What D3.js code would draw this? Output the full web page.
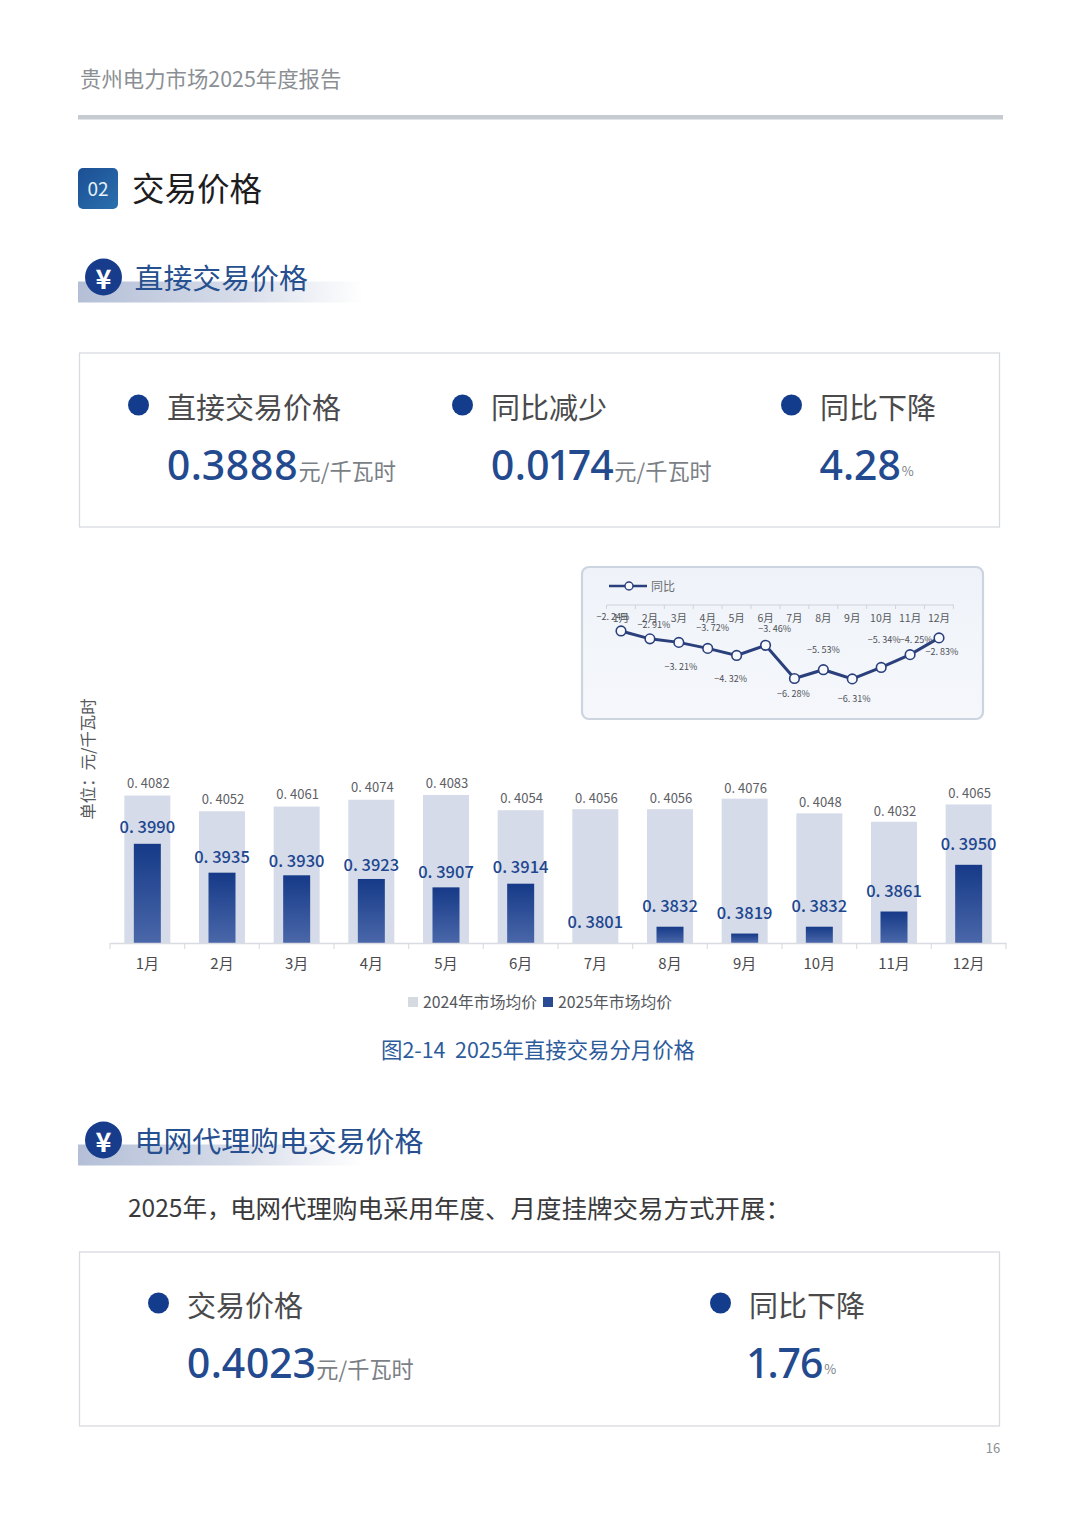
<!DOCTYPE html>
<html lang="zh-CN"><head><meta charset="utf-8">
<style>html,body{margin:0;padding:0;background:#fff}svg{display:block}text{font-family:"Noto Sans CJK SC","Noto Sans",sans-serif;white-space:pre}
text.kpi{font-family:"Noto Sans","Noto Sans CJK SC",sans-serif;font-feature-settings:"pnum" 1;font-variant-numeric:proportional-nums}</style>
<script src="https://cdn.jsdelivr.net/npm/d3@7"></script></head><body>
<svg id="page" width="1080" height="1526"></svg>
<script>
const months = ["1月","2月","3月","4月","5月","6月","7月","8月","9月","10月","11月","12月"];
const price2024 = [0.4082,0.4052,0.4061,0.4074,0.4083,0.4054,0.4056,0.4056,0.4076,0.4048,0.4032,0.4065];
const price2025 = [0.3990,0.3935,0.3930,0.3923,0.3907,0.3914,0.3801,0.3832,0.3819,0.3832,0.3861,0.3950];
const yoy = [-2.24,-2.91,-3.21,-3.72,-4.32,-3.46,-6.28,-5.53,-6.31,-5.34,-4.25,-2.83];
const seriesNames = ["2024年市场均价","2025年市场均价"];
const kpiTop = [["直接交易价格","0.3888","元/千瓦时"],["同比减少","0.0174","元/千瓦时"],["同比下降","4.28","%"]];
const kpiBottom = [["交易价格","0.4023","元/千瓦时"],["同比下降","1.76","%"]];

const svg = d3.select("#page");
const defs = svg.append("defs");
function lin(id,x2,y2,stops){const g=defs.append("linearGradient").attr("id",id).attr("x1",0).attr("y1",0).attr("x2",x2).attr("y2",y2);
  stops.forEach(s=>g.append("stop").attr("offset",s[0]).attr("stop-color",s[1]).attr("stop-opacity",s[2]??1));}
lin("barG",0,1,[[0,"#163a88"],[1,"#4a67a9"]]);
lin("tagG",1,1,[[0,"#1c4f94"],[1,"#2a70ad"]]);
lin("bandG",1,0,[[0,"#b4bfd7"],[0.55,"#d5dbe8"],[1,"#ffffff"]]);
lin("panelG",0,1,[[0,"#eff3f9"],[1,"#f5f7fb"]]);
const T=(x,y,s,size,fill,o={})=>svg.append("text").attr("x",x).attr("y",y-1).attr("font-size",size).attr("fill",fill)
  .attr("font-weight",o.w||400).attr("text-anchor",o.a||"start").attr("dominant-baseline","central").attr("class",o.c||null).text(s);

// header
T(80,78,"贵州电力市场2025年度报告",21.4,"#8b8f94");
svg.append("rect").attr("x",78).attr("y",115).attr("width",925).attr("height",4.5).attr("fill","#c6cbd1");
svg.append("rect").attr("x",78).attr("y",168).attr("width",40).attr("height",41).attr("rx",5).attr("fill","url(#tagG)");
T(98,188,"02",19,"#e8f0f8",{a:"middle"});
T(132,187,"交易价格",32.5,"#1d1d1f");

function sectionHead(y,title,bandW){
  svg.append("rect").attr("x",78).attr("y",y+4.5).attr("width",bandW).attr("height",21).attr("fill","url(#bandG)");
  svg.append("circle").attr("cx",103.5).attr("cy",y).attr("r",18.5).attr("fill","#173c8b");
  T(103.5,y+1,"¥",27,"#fff",{a:"middle",w:700});
  T(134.5,y-0.5,title,28.9,"#26508f");
}
sectionHead(277,"直接交易价格",285);
sectionHead(1140,"电网代理购电交易价格",285);
const body=T(128,1207,"",25.5,"#3a3a3c");
body.append("tspan").attr("font-size",24.5).text("2025年，");
body.append("tspan").attr("x",230).text("电网代理购电采用年度、月度挂牌交易方式开展：");

function card(y,items,xs,shift){
  svg.append("rect").attr("x",79.5).attr("y",y).attr("width",920).attr("height",174).attr("fill","#fff").attr("stroke","#d8dbdf").attr("stroke-width",1.3);
  items.forEach((d,i)=>{
    const x=xs[i], t=y+shift;
    svg.append("circle").attr("cx",x-28.5).attr("cy",t+52).attr("r",10.5).attr("fill","#143c8c");
    T(x,t+54,d[0],29,"#4a4a4c");
    const n=T(x-0.5,t+112,d[1],41,"#234a8e",{w:500,c:"kpi"});
    const w=n.node().getComputedTextLength();
    T(x+w,t+118,d[2],d[2]==="%"?13:22.2,"#7b7f86");
  });
}
card(353,kpiTop,[167,491,820],0);
card(1252,kpiBottom,[187,749],-1);

// bar chart
const x=d3.scaleBand().domain(months).range([110,1006]);
const y=d3.scaleLinear().domain([0.3801,0.4083]).range([943,795]);
const wide=46,narrow=27;
const fmt=v=>v.toFixed(4).replace(".",". ");
svg.append("g").selectAll("rect").data(price2024).join("rect")
  .attr("x",(d,i)=>x(months[i])+x.bandwidth()/2-wide/2).attr("width",wide)
  .attr("y",d=>y(d)).attr("height",d=>943-y(d)).attr("fill","#d5dbe9");
svg.append("g").selectAll("rect").data(price2025).join("rect")
  .attr("x",(d,i)=>x(months[i])+x.bandwidth()/2-narrow/2).attr("width",narrow)
  .attr("y",d=>y(d)).attr("height",d=>943-y(d)).attr("fill","url(#barG)");
const ax=svg.append("g").attr("transform","translate(0,943)").call(d3.axisBottom(x).tickSize(0).tickPadding(15));
ax.select(".domain").attr("stroke","#d9dce2").attr("stroke-width",1.5);
ax.selectAll("text").attr("font-size",15).attr("fill","#4b4b4d").attr("font-family",null);
ax.append("g").selectAll("line").data(d3.range(13)).join("line")
  .attr("x1",i=>110+i*x.bandwidth()).attr("x2",i=>110+i*x.bandwidth()).attr("y1",0).attr("y2",6).attr("stroke","#d9dce2").attr("stroke-width",1.2);
price2024.forEach((v,i)=>T(x(months[i])+x.bandwidth()/2+1,y(v)-(i<6?12:10.5),fmt(v),13,"#5d6066",{a:"middle"}));
const gap2025=[17,16,14,14,15,17,21,21,21,21,21,21];
price2025.forEach((v,i)=>T(x(months[i])+x.bandwidth()/2,y(v)-gap2025[i],fmt(v),16.5,"#20468f",{a:"middle",w:500}));
svg.append("text").attr("transform","translate(87,759) rotate(-90)").attr("text-anchor","middle").attr("dominant-baseline","central")
  .attr("font-size",16.4).attr("fill","#55585c").text("单位：元/千瓦时");
// legend
svg.append("rect").attr("x",408).attr("y",997).attr("width",10).attr("height",10).attr("fill","#d5d9e0");
T(423,1002,seriesNames[0],15.8,"#55585c");
svg.append("rect").attr("x",543).attr("y",997).attr("width",10).attr("height",10).attr("fill","#2a4b94");
T(558,1002,seriesNames[1],15.8,"#55585c");
T(381,1049.5,"图2-14  2025年直接交易分月价格",21.4,"#2c5b9c");

// inset
svg.append("rect").attr("x",582).attr("y",567).attr("width",401).attr("height",152).attr("rx",7).attr("fill","url(#panelG)").attr("stroke","#ccd4e0").attr("stroke-width",2.2);
const px=d3.scalePoint().domain(months).range([621,939]);
const py=d3.scaleLinear().domain([0,-7]).range([604.6,687]);
const step=px.step();
svg.append("line").attr("x1",606.5).attr("x2",954).attr("y1",605).attr("y2",605).attr("stroke","#cfd3d9");
d3.range(13).forEach(i=>svg.append("line").attr("x1",606.5+i*step).attr("x2",606.5+i*step).attr("y1",605).attr("y2",609).attr("stroke","#cfd3d9"));
months.forEach(m=>T(px(m),618,m,10.5,"#55585c",{a:"middle"}));
const line=d3.line().x((d,i)=>px(months[i])).y(d=>py(d));
svg.append("path").attr("d",line(yoy)).attr("fill","none").attr("stroke","#2a3f7c").attr("stroke-width",3);
svg.append("g").selectAll("circle").data(yoy).join("circle").attr("cx",(d,i)=>px(months[i])).attr("cy",d=>py(d)).attr("r",4.8)
  .attr("fill","#f7f9fc").attr("stroke","#2a3f7c").attr("stroke-width",1.6);
const nudge=[[-8,-13],[4,-13],[2,25],[5,-20],[-6,24],[9,-16],[-1,16],[0,-19],[2,21],[3,-27],[6,-14],[3,15]];
yoy.forEach((v,i)=>T(px(months[i])+nudge[i][0],py(v)+nudge[i][1],v.toFixed(2).replace("-","−").replace(".",". ")+"%",9,"#4d5056",{a:"middle"}));
svg.append("line").attr("x1",609).attr("x2",647).attr("y1",586).attr("y2",586).attr("stroke","#2a3f7c").attr("stroke-width",2.6);
svg.append("circle").attr("cx",629).attr("cy",586).attr("r",4).attr("fill","#f7f9fc").attr("stroke","#2a3f7c").attr("stroke-width",1.4);
T(651,586,"同比",12,"#6a6d72");

T(993,1448,"16",13,"#8b8f94",{a:"middle"});
</script></body></html>
